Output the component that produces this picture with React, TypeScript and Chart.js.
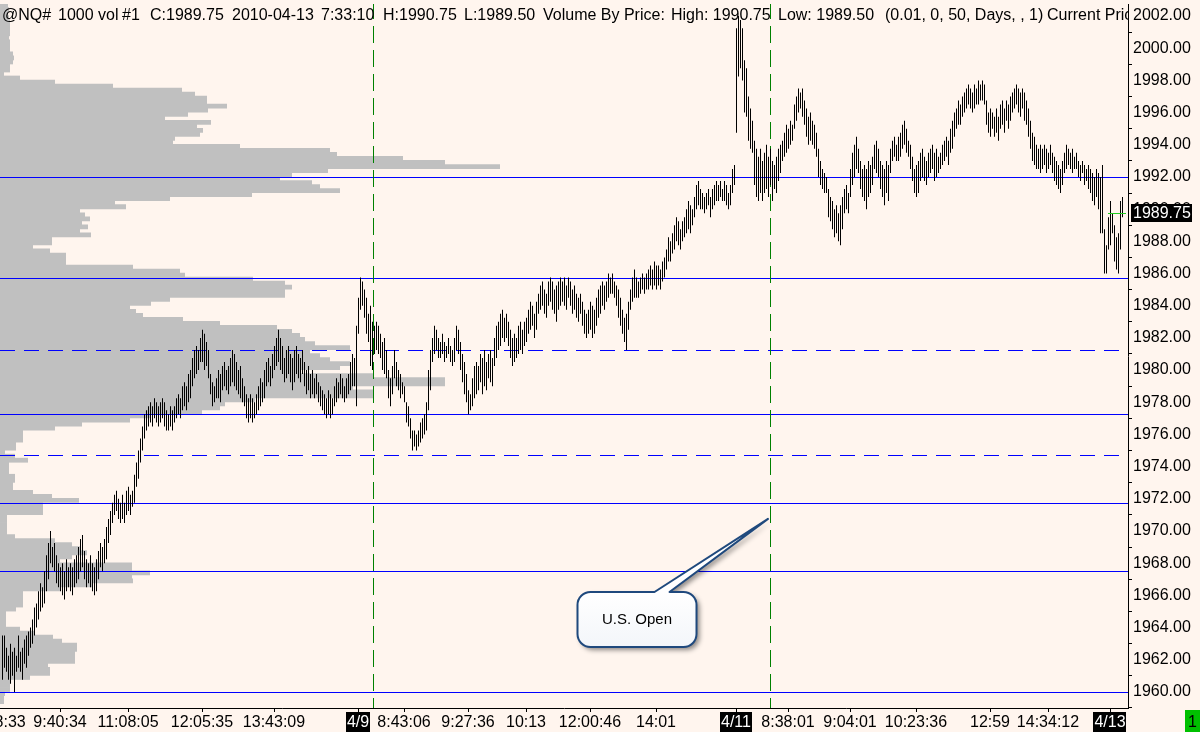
import React, { useEffect, useRef } from "react";
import { Chart, registerables } from "chart.js";

Chart.register(...registerables);

const FONT = "'Liberation Sans', Arial, sans-serif";
const BG = "#FFF5EE";

// ---- 1000-volume bars (high / low), one per bar index ----
const barHigh = [
  1963.5, 1963.5, 1962.75, 1962.25, 1963.0, 1962.5, 1962.75, 1962.25, 1963.5, 1962.5, 1962.75, 1963.25, 1963.5, 1963.75, 1964.0, 1964.5, 1965.25,
  1965.5, 1966.25, 1966.75, 1966.5, 1967.5,
  1968.5, 1969.25, 1970.0, 1969.0, 1969.25,
  1968.5, 1968.0, 1967.75, 1968.0, 1967.5, 1968.25, 1967.75, 1968.0, 1967.75, 1968.25, 1968.5, 1969.0, 1969.5, 1969.75, 1968.75, 1968.25, 1968.0, 1968.5, 1968.0, 1967.75, 1968.25, 1968.75, 1969.25,
  1969.0, 1969.5, 1970.25, 1970.75, 1971.25, 1971.75, 1972.25, 1972.5, 1972.0, 1971.75, 1972.25, 1971.75, 1972.5, 1972.75, 1972.25, 1972.5, 1973.5, 1974.25, 1975.0, 1975.75, 1976.5, 1977.25, 1977.5,
  1977.75, 1978.0, 1977.75, 1978.25, 1978.0, 1977.75, 1978.0, 1978.25, 1978.0, 1977.5, 1977.25, 1977.75, 1977.5, 1977.75, 1978.25, 1978.5, 1978.25, 1979.0, 1979.25,
  1979.0, 1979.75, 1980.0, 1980.75, 1981.25, 1981.5, 1981.25, 1982.0, 1982.5, 1982.25, 1981.75, 1981.25, 1979.75,
  1979.25, 1979.0, 1979.5, 1980.0, 1979.75, 1980.25, 1980.5, 1980.0, 1980.25, 1980.75, 1981.25, 1981.0, 1980.5, 1980.0, 1980.25, 1979.5, 1979.0, 1978.5, 1978.25, 1978.5, 1978.25, 1978.0, 1978.5, 1979.0, 1979.5, 1979.25, 1980.0, 1980.5, 1980.75, 1980.25, 1981.0, 1981.5, 1982.0, 1982.5, 1982.0, 1981.5, 1980.75,
  1981.25, 1981.5, 1981.0, 1980.75, 1981.25, 1981.5, 1981.0, 1980.75, 1981.25, 1980.5, 1980.0, 1980.25, 1979.75, 1980.0, 1979.5, 1979.75, 1979.25, 1979.0, 1978.75, 1978.5, 1978.25, 1978.75, 1978.5, 1978.25, 1979.0, 1979.5, 1979.25, 1979.75, 1979.5, 1979.0, 1979.5, 1979.75, 1980.5,
  1981.0, 1980.75, 1982.75, 1984.5, 1985.75, 1985.5, 1985.0, 1984.5, 1983.5, 1984.0, 1983.0, 1982.75,
  1983.0, 1982.75, 1982.25,
  1981.75, 1982.0, 1981.25,
  1980.0, 1979.5, 1980.25,
  1981.25, 1980.5, 1980.0,
  1979.75, 1979.25, 1979.0,
  1978.0, 1977.75,
  1977.0, 1976.25, 1976.25, 1976.0, 1976.25,
  1976.75, 1977.0, 1977.25, 1978.0,
  1980.0, 1981.25,
  1982.0, 1982.75, 1982.5, 1982.0,
  1981.75, 1982.25, 1981.75, 1981.5, 1982.0, 1981.5,
  1981.25, 1982.0, 1982.75, 1982.5,
  1981.75, 1981.0, 1980.5, 1979.75,
  1978.75, 1978.5,
  1979.5, 1980.25, 1980.5, 1980.25,
  1981.0, 1980.75, 1981.25, 1980.5, 1981.0, 1981.25, 1980.75,
  1982.0, 1982.75, 1983.0,
  1983.5, 1983.75, 1983.25, 1983.5, 1983.0,
  1982.5, 1982.0, 1982.25, 1982.0,
  1982.75, 1983.0, 1982.5, 1983.0, 1983.25,
  1983.75, 1984.25, 1984.0, 1983.5, 1984.25,
  1984.75, 1985.25, 1985.5, 1985.0, 1984.75,
  1985.5, 1985.75, 1985.5, 1985.0, 1985.25, 1985.5, 1985.75,
  1985.5, 1985.75, 1985.25, 1985.75,
  1985.5, 1985.0, 1985.25, 1984.75, 1984.5, 1984.75, 1984.25, 1983.75, 1983.5,
  1983.75, 1984.25, 1984.0, 1983.75, 1984.5,
  1985.0, 1985.25, 1985.5, 1985.25, 1985.5,
  1986.0, 1985.75, 1986.0, 1985.5, 1985.25,
  1985.0, 1984.5,
  1983.75, 1983.25, 1983.5, 1984.25,
  1985.0, 1985.75, 1986.25, 1985.75,
  1985.5, 1985.75, 1986.0, 1985.75, 1986.0,
  1986.25, 1986.5, 1986.25, 1986.75, 1986.5,
  1986.5, 1986.25, 1986.75, 1987.0,
  1987.5, 1988.25, 1988.0,
  1988.5, 1989.0, 1989.5, 1989.25, 1988.75, 1989.25,
  1989.5, 1990.0, 1990.5, 1990.25, 1990.0,
  1990.75, 1991.5, 1991.75, 1991.25,
  1991.0, 1990.75, 1991.0, 1991.25, 1990.75, 1991.25,
  1991.5, 1991.75, 1991.5, 1991.75, 1991.25, 1991.75, 1991.5, 1991.0, 1991.5, 1992.5, 1992.75,
  2001.25, 2002.0, 2001.75, 2001.25,
  1999.25, 1998.75,
  1997.0, 1996.25, 1995.5,
  1994.25, 1993.75, 1993.25, 1993.75, 1993.0,
  1993.5, 1994.0, 1993.25, 1993.75, 1993.0, 1992.75, 1993.25, 1993.75,
  1994.0, 1994.25, 1994.75, 1995.25, 1995.0, 1995.5, 1995.25,
  1996.5, 1997.0, 1997.5, 1997.25, 1997.5,
  1996.75, 1996.25, 1995.75, 1996.0, 1995.5, 1995.25, 1994.75,
  1993.75, 1993.0, 1992.5, 1992.25, 1992.0,
  1991.25, 1990.75, 1990.5, 1990.0, 1990.25, 1989.75, 1990.25, 1990.75,
  1991.25, 1991.5, 1991.0,
  1992.5, 1993.5, 1994.0, 1994.5, 1993.75,
  1993.0, 1992.5, 1992.75, 1992.5, 1993.0, 1992.75, 1993.25,
  1994.0, 1994.25, 1993.75,
  1993.0, 1992.75, 1992.5, 1993.0, 1992.75,
  1993.75, 1994.25, 1994.5, 1994.0, 1994.5,
  1994.75, 1995.25, 1995.5, 1995.0, 1994.25,
  1994.0, 1993.25, 1992.5, 1992.75, 1993.0,
  1993.5, 1993.75, 1993.25, 1993.0, 1993.5,
  1993.75, 1994.0, 1993.5, 1993.75, 1993.25, 1993.5, 1994.0,
  1994.25, 1994.5, 1994.25, 1995.0, 1995.5,
  1996.0, 1996.25, 1996.75, 1996.5, 1997.0,
  1997.25, 1997.5, 1997.75, 1997.5, 1997.25, 1997.75, 1997.5,
  1998.0, 1997.75, 1998.0, 1997.75,
  1996.75, 1996.0, 1996.25, 1996.0, 1995.75, 1996.25, 1995.75,
  1996.5, 1996.75, 1996.25, 1996.75, 1996.5,
  1997.0, 1997.25, 1997.5, 1997.75, 1997.5, 1997.25, 1997.5, 1997.25, 1996.75,
  1996.25, 1995.5, 1994.75, 1994.5, 1994.0,
  1993.75, 1994.0, 1993.75, 1994.0, 1993.75, 1993.5, 1994.0, 1993.5,
  1993.25, 1993.0, 1992.75, 1992.5, 1993.0,
  1993.5, 1994.0, 1993.75, 1993.5, 1993.75, 1993.25, 1993.5,
  1993.0, 1992.75, 1993.0, 1992.75, 1992.5, 1992.75,
  1992.5, 1992.25, 1992.0, 1992.5, 1992.25, 1992.0, 1992.75,
  1988.75, 1987.75,
  1989.5, 1990.5, 1989.75,
  1989.0, 1988.25, 1988.5,
  1990.5, 1990.75,
];

const barLow = [
  1960.75, 1961.5, 1961.25, 1960.75, 1960.5, 1961.0, 1960.0, 1961.25, 1961.5, 1961.25, 1960.75, 1961.75, 1961.5, 1962.25, 1962.75, 1963.0, 1963.5,
  1964.0, 1964.5, 1965.0, 1965.25, 1965.5,
  1966.25, 1967.0, 1968.0, 1967.75, 1967.5,
  1966.75, 1966.5, 1966.25, 1966.0, 1965.75, 1966.25, 1966.5, 1966.25, 1966.0, 1966.5, 1966.75, 1967.0, 1967.5, 1967.75, 1967.0, 1966.5, 1966.75, 1966.5, 1966.25, 1966.0, 1966.25, 1967.0, 1967.75,
  1967.5, 1968.0, 1968.25, 1969.25, 1969.75, 1970.5, 1971.0, 1971.25, 1970.75, 1970.5, 1970.75, 1970.5, 1971.0, 1971.25, 1971.0, 1971.5, 1971.75, 1972.75, 1973.25, 1974.25, 1975.0, 1975.75, 1976.25,
  1976.5, 1976.75, 1976.5, 1977.0, 1976.75, 1976.5, 1976.75, 1977.0, 1976.5, 1976.25, 1976.25, 1976.5, 1976.25, 1976.75, 1977.0, 1977.25, 1977.0, 1977.5, 1977.75,
  1977.5, 1978.0, 1978.25, 1979.0, 1979.5, 1979.75, 1980.0, 1980.5, 1980.5, 1980.0, 1980.25, 1979.5, 1978.5,
  1977.75, 1978.0, 1978.25, 1978.25, 1978.0, 1978.75, 1979.0, 1978.75, 1978.5, 1979.0, 1979.25, 1979.0, 1978.75, 1978.5, 1978.25, 1978.0, 1977.75, 1977.0, 1976.75, 1977.0, 1976.75, 1977.0, 1977.25, 1977.5, 1977.75, 1978.0, 1978.25, 1979.0, 1979.25, 1979.0, 1979.5, 1980.0, 1980.25, 1980.5, 1980.0, 1979.75, 1979.25,
  1979.5, 1979.75, 1979.25, 1978.75, 1979.25, 1979.75, 1979.5, 1979.25, 1979.75, 1979.0, 1978.5, 1978.75, 1978.25, 1978.5, 1978.25, 1978.5, 1978.0, 1977.75, 1977.5, 1977.25, 1977.0, 1977.25, 1977.0, 1977.25, 1977.75, 1978.0, 1978.25, 1978.5, 1978.25, 1978.0, 1978.25, 1978.5, 1978.75,
  1979.0, 1979.0, 1977.75, 1982.25, 1983.75, 1984.0, 1983.25, 1982.25, 1981.75, 1980.25, 1980.0, 1981.0,
  1981.25, 1981.0, 1980.75,
  1980.0, 1979.75, 1979.5,
  1978.25, 1977.75, 1978.5,
  1979.5, 1979.0, 1978.75,
  1978.25, 1978.5, 1978.0,
  1976.75, 1976.5,
  1975.75, 1975.0, 1975.25, 1975.0, 1975.25,
  1975.5, 1975.75, 1976.0, 1976.25,
  1977.5, 1978.75,
  1980.5, 1981.0, 1981.25, 1980.75,
  1980.75, 1981.0, 1980.5, 1980.75, 1981.0, 1980.5,
  1980.25, 1980.5, 1981.25, 1981.0,
  1980.0, 1979.25, 1978.5, 1978.0,
  1977.25, 1977.5,
  1977.75, 1978.25, 1978.5, 1978.75,
  1979.25, 1978.5, 1979.0, 1978.75, 1979.5, 1979.25, 1979.0,
  1980.25, 1980.75, 1981.25,
  1981.5, 1982.0, 1981.75, 1982.0, 1981.5,
  1980.75, 1980.25, 1980.5, 1980.75,
  1981.0, 1981.25, 1981.0, 1981.5, 1981.75,
  1982.25, 1982.5, 1982.75, 1982.0, 1982.5,
  1983.5, 1983.75, 1984.0, 1983.5, 1983.25,
  1984.0, 1984.25, 1983.75, 1983.5, 1983.0, 1983.75, 1984.0,
  1984.25, 1984.0, 1983.75, 1984.5,
  1984.0, 1983.5, 1983.75, 1983.25, 1983.0, 1983.5, 1982.75, 1982.25, 1982.0,
  1982.25, 1982.5, 1982.0, 1982.25, 1982.75,
  1983.25, 1983.5, 1984.0, 1983.75, 1984.25,
  1984.5, 1984.75, 1984.75, 1984.5, 1984.0,
  1983.25, 1982.75,
  1982.25, 1981.75, 1981.25, 1982.5,
  1983.75, 1984.25, 1984.5, 1984.5,
  1984.5, 1984.75, 1985.0, 1984.75, 1985.0,
  1985.0, 1985.25, 1985.0, 1985.25, 1985.0,
  1985.25, 1985.0, 1985.5, 1985.75,
  1986.25, 1986.75, 1986.75,
  1987.25, 1987.5, 1988.0, 1987.75, 1987.5, 1988.0,
  1988.25, 1988.5, 1988.75, 1988.5, 1989.0,
  1989.5, 1990.0, 1990.25, 1990.0,
  1990.0, 1989.75, 1990.0, 1990.25, 1989.5, 1990.0,
  1990.25, 1990.5, 1990.5, 1990.75, 1990.5, 1990.5, 1990.25, 1990.0, 1990.25, 1991.0, 1991.5,
  1994.75, 1998.25, 1998.75, 1998.0,
  1996.0, 1995.75,
  1994.25, 1993.75, 1993.5,
  1991.5, 1990.75, 1990.5, 1991.0, 1990.5,
  1991.0, 1991.25, 1990.75, 1991.5, 1990.5, 1991.25, 1991.0, 1991.75,
  1992.25, 1993.0, 1993.25, 1993.5, 1993.75, 1994.0, 1994.25,
  1995.0, 1995.5, 1996.0, 1996.25, 1995.75,
  1995.25, 1994.5, 1994.0, 1994.25, 1994.0, 1993.75, 1993.25,
  1992.0, 1991.5, 1991.25, 1991.0, 1991.0,
  1989.5, 1989.25, 1988.75, 1988.25, 1988.5, 1988.0, 1987.75, 1988.75,
  1989.75, 1990.0, 1989.75,
  1990.75, 1991.5, 1992.0, 1992.5, 1992.25,
  1991.25, 1990.75, 1990.5, 1990.0, 1990.75, 1991.0, 1991.5,
  1992.5, 1992.25, 1992.0,
  1991.25, 1990.75, 1990.25, 1991.0, 1990.5,
  1992.25, 1993.0, 1993.25, 1993.0, 1993.0,
  1993.25, 1993.75, 1994.0, 1993.5, 1993.25,
  1992.5, 1991.75, 1991.0, 1990.75, 1991.0,
  1991.75, 1992.0, 1991.75, 1991.5, 1992.0,
  1992.25, 1992.5, 1991.75, 1992.0, 1992.25, 1992.5, 1992.75,
  1993.0, 1993.25, 1992.75, 1993.5, 1993.75,
  1994.5, 1995.0, 1995.25, 1995.25, 1995.75,
  1996.0, 1996.25, 1996.5, 1996.25, 1996.0, 1996.25, 1996.5,
  1996.5, 1996.75, 1996.75, 1996.5,
  1995.25, 1994.75, 1994.5, 1995.0, 1994.5, 1994.75, 1994.25,
  1995.0, 1995.25, 1994.75, 1995.5, 1995.0,
  1995.5, 1996.0, 1996.25, 1996.5, 1996.0, 1995.75, 1996.25, 1995.5, 1995.25,
  1994.5, 1993.75, 1993.0, 1992.75, 1992.5,
  1992.5, 1992.25, 1992.5, 1992.75, 1992.25, 1992.5, 1992.75, 1992.25,
  1991.75, 1991.5, 1991.25, 1991.0, 1991.5,
  1992.25, 1992.5, 1992.75, 1992.5, 1992.25, 1992.5, 1992.5,
  1992.0, 1991.75, 1992.25, 1991.5, 1991.75, 1991.25,
  1991.0, 1990.5, 1990.25, 1990.75, 1990.0, 1988.5, 1988.5,
  1986.0, 1986.0,
  1987.5, 1987.75, 1988.5,
  1986.75, 1986.25, 1986.0,
  1987.5, 1989.5,
];

// ---- Volume-by-price profile (top level, step, volume per level from top down) ----
const profileTop = 2002.5;
const profileStep = 0.25;
const profileVolume = [
  8, 9, 8, 9, 10, 10, 10, 10, 9, 10,
  10, 10, 13, 14, 13, 10, 10, 4, 20, 55,
  113, 182, 195, 207, 207, 227, 208, 188, 165, 211,
  197, 203, 200, 175, 173, 240, 330, 337, 403, 445,
  500, 328, 292, 280, 312, 320, 340, 252, 170, 115,
  126, 80, 85, 90, 82, 88, 80, 91, 52, 52,
  33, 50, 66, 66, 66, 133, 180, 185, 253, 285,
  292, 285, 285, 170, 151, 130, 136, 143, 183, 220,
  277, 292, 300, 305, 315, 350, 310, 320, 330, 350,
  340, 300, 373, 445, 445, 353, 373, 373, 255, 225,
  220, 202, 150, 130, 82, 55, 23, 23, 23, 16,
  16, 5, 15, 28, 9, 9, 9, 15, 15, 13,
  13, 33, 52, 79, 43, 43, 43, 7, 7, 7,
  7, 7, 15, 55, 72, 80, 87, 72, 60, 132,
  132, 150, 132, 133, 92, 60, 23, 23, 23, 23,
  16, 6, 6, 6, 6, 20, 35, 53, 62, 77,
  77, 75, 75, 75, 48, 50, 50, 30, 10, 10,
  10, 5, 4, 4,
];

// ---- Axis ticks / labels ----
const priceTicks = [1960, 1962, 1964, 1966, 1968, 1970, 1972, 1974, 1976, 1978, 1980, 1982, 1984, 1986, 1988, 1990, 1992, 1994, 1996, 1998, 2000, 2002];
const timeLabels = ["8:58:33", "9:40:34", "11:08:05", "12:05:35", "13:43:09", "4/9", "8:43:06", "9:27:36", "10:13", "12:00:46", "14:01", "4/11", "8:38:01", "9:04:01", "10:23:36", "12:59", "14:34:12", "4/13"];
const timeLabelBars = [-1.5, 29, 63, 100, 136, 178, 201, 233, 262, 294, 327, 367, 393, 424, 457, 494, 523, 554];

// ---- Reference levels / markers ----
const solidLevels = [1992, 1985.75, 1977.25, 1971.75, 1967.5, 1960];
const dashedLevels = [1981.25, 1974.75];
const usOpenBars = [185.5, 384.5];
const currentPrice = 1989.75;
const calloutText = "U.S. Open";
const calloutTipBar = 383;
const calloutTipPrice = 1970.75;
const calloutBoxBar = 317.5;
const calloutBoxPrice = 1964.5;
const headerParts = [
  "@NQ#", "1000 vol", "#1", "C:1989.75", "2010-04-13", "7:33:10", "H:1990.75", "L:1989.50",
  "Volume By Price:", "High: 1990.75", "Low: 1989.50", "(0.01, 0, 50, Days, , 1)", "Current Price",
];

const Y_MIN = 1959;
const Y_MAX = 2002.75;
const X_MIN = -1;
const X_MAX = 563;
const OHLC_INDEX = 1;

const overlayPlugin = {
  id: "overlay",
  beforeDraw(chart: any) {
    const { ctx, width, height } = chart;
    ctx.save();
    ctx.fillStyle = BG;
    ctx.fillRect(0, 0, width, height);
    ctx.restore();
  },
  beforeDatasetDraw(chart: any, args: any) {
    if (args.index !== OHLC_INDEX) return;
    const { ctx, chartArea: a, scales } = chart;
    ctx.save();
    ctx.beginPath();
    ctx.rect(a.left, a.top, a.right - a.left, a.bottom - a.top);
    ctx.clip();
    ctx.lineWidth = 1;
    ctx.strokeStyle = "#0000FF";
    const hline = (p: number) => {
      const y = Math.round(scales.y.getPixelForValue(p)) + 0.5;
      ctx.beginPath();
      ctx.moveTo(a.left, y);
      ctx.lineTo(a.right, y);
      ctx.stroke();
    };
    ctx.setLineDash([]);
    solidLevels.forEach(hline);
    ctx.setLineDash([15, 9]);
    dashedLevels.forEach(hline);
    ctx.strokeStyle = "#008000";
    ctx.setLineDash([17, 7]);
    usOpenBars.forEach((b) => {
      const x = Math.floor(scales.x.getPixelForValue(b)) + 0.5;
      ctx.beginPath();
      ctx.moveTo(x, a.top - 2);
      ctx.lineTo(x, a.bottom);
      ctx.stroke();
    });
    ctx.restore();
  },
  afterDraw(chart: any) {
    const { ctx, chartArea: a, scales } = chart;
    const xs = scales.x;
    const ys = scales.y;
    ctx.save();

    // current price marker on last bars
    const cpY = Math.round(ys.getPixelForValue(currentPrice)) + 0.5;
    ctx.strokeStyle = "#22CC22";
    ctx.lineWidth = 1;
    ctx.beginPath();
    ctx.moveTo(xs.getPixelForValue(barHigh.length - 8), cpY);
    ctx.lineTo(xs.getPixelForValue(barHigh.length + 1), cpY);
    ctx.stroke();

    // header
    ctx.save();
    ctx.beginPath();
    ctx.rect(0, 0, a.right, a.bottom);
    ctx.clip();
    ctx.fillStyle = "#000";
    ctx.font = `16px ${FONT}`;
    ctx.textBaseline = "alphabetic";
    ctx.textAlign = "left";
    const hx = [2, 58, 122, 150, 232, 321, 383, 464, 543, 671, 778, 885, 1047];
    headerParts.forEach((t, k) => ctx.fillText(t, hx[k], 20));
    ctx.restore();

    // x labels
    ctx.font = `16px ${FONT}`;
    ctx.textAlign = "center";
    ctx.textBaseline = "alphabetic";
    timeLabels.forEach((t, k) => {
      const x = xs.getPixelForValue(timeLabelBars[k]);
      const tx = Math.round(x) + 0.5;
      ctx.strokeStyle = "#000";
      ctx.beginPath();
      ctx.moveTo(tx, a.bottom);
      ctx.lineTo(tx, a.bottom + 4);
      ctx.stroke();
      if (t.includes("/")) {
        const w = ctx.measureText(t).width;
        ctx.fillStyle = "#000";
        ctx.fillRect(Math.round(x - w / 2 - 1), a.bottom + 4, Math.round(w + 2), 24);
        ctx.fillStyle = "#FFF";
      } else {
        ctx.fillStyle = "#000";
      }
      ctx.fillText(t, x, 727);
    });

    // current price box on axis
    const py = ys.getPixelForValue(currentPrice);
    ctx.fillStyle = "#000";
    ctx.fillRect(a.right + 3, Math.round(py) - 9, 61, 18);
    ctx.fillStyle = "#FFF";
    ctx.textAlign = "left";
    ctx.textBaseline = "middle";
    ctx.fillText(currentPrice.toFixed(2), a.right + 5, py);

    // green status box
    ctx.fillStyle = "#00C000";
    ctx.fillRect(1185, a.bottom + 2, 15, 24);
    ctx.fillStyle = "#000";
    ctx.textBaseline = "alphabetic";
    ctx.fillText("1", 1188, 727);

    // callout
    const tipX = xs.getPixelForValue(calloutTipBar);
    const tipY = ys.getPixelForValue(calloutTipPrice);
    const cx = xs.getPixelForValue(calloutBoxBar);
    const cy = ys.getPixelForValue(calloutBoxPrice);
    const w = 119, h = 55, r = 13;
    const x0 = cx - w / 2, y0 = cy - h / 2, x1 = cx + w / 2, y1 = cy + h / 2;
    const b0 = x0 + 77, b1 = x0 + 92;
    const path = () => {
      ctx.beginPath();
      ctx.moveTo(x0 + r, y0);
      ctx.lineTo(b0, y0);
      ctx.lineTo(tipX, tipY);
      ctx.lineTo(b1, y0);
      ctx.lineTo(x1 - r, y0);
      ctx.arcTo(x1, y0, x1, y0 + r, r);
      ctx.lineTo(x1, y1 - r);
      ctx.arcTo(x1, y1, x1 - r, y1, r);
      ctx.lineTo(x0 + r, y1);
      ctx.arcTo(x0, y1, x0, y1 - r, r);
      ctx.lineTo(x0, y0 + r);
      ctx.arcTo(x0, y0, x0 + r, y0, r);
      ctx.closePath();
    };
    ctx.save();
    ctx.shadowColor = "rgba(0,0,0,0.45)";
    ctx.shadowBlur = 5;
    ctx.shadowOffsetX = 3;
    ctx.shadowOffsetY = 3;
    const g = ctx.createLinearGradient(0, y0, 0, y1);
    g.addColorStop(0, "#FFFFFF");
    g.addColorStop(1, "#F3F6FA");
    ctx.fillStyle = g;
    path();
    ctx.fill();
    ctx.restore();
    ctx.lineWidth = 2;
    ctx.strokeStyle = "#1F497D";
    ctx.lineJoin = "round";
    path();
    ctx.stroke();
    ctx.fillStyle = "#000";
    ctx.font = `15px ${FONT}`;
    ctx.textAlign = "center";
    ctx.textBaseline = "middle";
    ctx.fillText(calloutText, cx, cy);

    ctx.restore();
  },
};

export default function App() {
  const ref = useRef<HTMLCanvasElement>(null);
  useEffect(() => {
    const canvas = ref.current;
    if (!canvas) return;
    const n = Math.min(barHigh.length, barLow.length);
    const ohlc = [];
    for (let i = 0; i < n; i++) ohlc.push({ x: i, y: [barLow[i], barHigh[i]] });
    const profile = profileVolume.map((v, k) => ({ x: v, y: profileTop - k * profileStep }));

    const chart = new Chart(canvas, {
      type: "bar",
      data: {
        datasets: [
          {
            type: "bar",
            label: "Volume By Price",
            indexAxis: "y",
            data: profile,
            xAxisID: "xv",
            yAxisID: "y",
            backgroundColor: "#C0C0C0",
            barThickness: 4.8,
            borderWidth: 0,
            inflateAmount: 0,
            order: 3,
          } as any,
          {
            type: "bar",
            label: "@NQ#",
            data: ohlc,
            xAxisID: "x",
            yAxisID: "yb",
            backgroundColor: "#000000",
            barThickness: 1,
            borderWidth: 0,
            inflateAmount: 0,
            order: 1,
          } as any,
        ],
      },
      options: {
        animation: false,
        responsive: false,
        devicePixelRatio: 1,
        events: [],
        layout: { padding: { top: 4, left: 0, right: 0, bottom: 0 } },
        plugins: { legend: { display: false }, tooltip: { enabled: false } },
        scales: {
          x: {
            type: "linear",
            min: X_MIN,
            max: X_MAX,
            offset: false,
            ticks: { display: false },
            grid: { display: false, offset: false },
            border: { display: true, color: "#000", width: 1 },
            afterFit: (s: any) => {
              s.height = 24;
              s.paddingLeft = 0;
              s.paddingRight = 0;
            },
          },
          xv: {
            type: "linear",
            axis: "x",
            display: false,
            offset: false,
            min: 0,
            max: 1128,
          },
          y: {
            type: "linear",
            position: "right",
            min: Y_MIN,
            max: Y_MAX,
            offset: false,
            afterBuildTicks: (s: any) => {
              s.ticks = priceTicks.map((v) => ({ value: v }));
            },
            afterFit: (s: any) => {
              s.width = 72;
              s.paddingTop = 0;
              s.paddingBottom = 0;
            },
            ticks: {
              color: "#000",
              font: { family: FONT, size: 16 },
              padding: 1,
              autoSkip: false,
              callback: (v: any) => Number(v).toFixed(2),
            },
            grid: { drawOnChartArea: false, drawTicks: true, tickLength: 4, color: "#000", lineWidth: 1 },
            border: { display: true, color: "#000", width: 1 },
          },
          yb: {
            type: "linear",
            axis: "y",
            display: false,
            offset: false,
            min: Y_MIN,
            max: Y_MAX,
          },
        } as any,
      },
      plugins: [overlayPlugin],
    } as any);
    return () => chart.destroy();
  }, []);
  return (
    <div style={{ position: "fixed", left: 0, top: 0, width: 1200, height: 732, background: BG }}>
      <canvas ref={ref} width={1200} height={732} style={{ display: "block", width: 1200, height: 732 }} />
    </div>
  );
}
